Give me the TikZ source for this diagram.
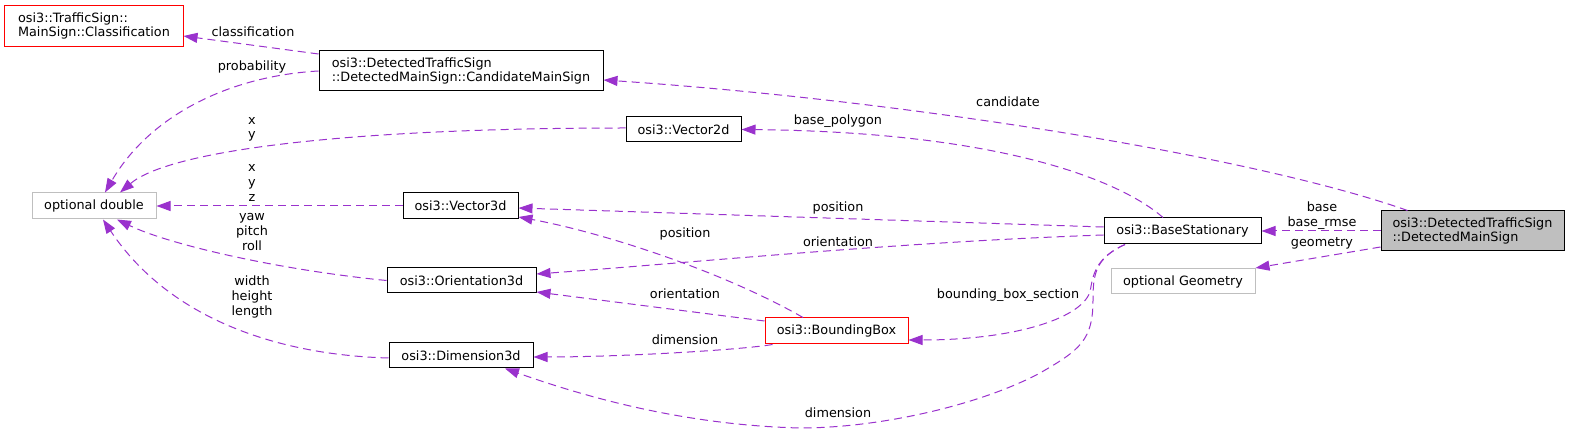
\documentclass[tikz,border=0pt]{standalone}
\usepackage{fontspec}
\setmainfont{DejaVu Sans}
\usetikzlibrary{arrows.meta,calc}
\definecolor{edgecol}{HTML}{9A32CD}
\definecolor{redbox}{HTML}{FF0000}
\definecolor{greybox}{HTML}{BFBFBF}
\tikzset{
  box/.style={line width=1pt, inner sep=0pt, align=left, font=\fontsize{12.8}{14}\selectfont},
  blackb/.style={box, draw=black},
  redb/.style={box, draw=redbox},
  greyb/.style={box, draw=greybox},
  mainb/.style={box, draw=black, fill=greybox},
  dep/.style={draw=edgecol, line width=1pt, dash pattern=on 8pt off 5pt, -{Triangle[length=14pt,width=10pt]}},
  lbl/.style={inner sep=0pt, align=center, font=\fontsize{12.8}{14.6}\selectfont}
}
\begin{document}
\begin{tikzpicture}[x=1pt,y=-1pt]
\fill[white] (0,0) rectangle (1569,435);
\useasboundingbox (0,0) rectangle (1569,435);
% nodes
\node[blackb, minimum width=284pt, minimum height=40pt] (cand) at (461,71) {osi3::DetectedTrafficSign\\::DetectedMainSign::CandidateMainSign};
\node[greyb, minimum width=124pt, minimum height=26pt] (od) at (94,206) {optional double};
\node[blackb, minimum width=115pt, minimum height=25pt] (v2) at (683.5,129.5) {osi3::Vector2d};
\node[blackb, minimum width=115pt, minimum height=26pt] (v3) at (460.5,206) {osi3::Vector3d};
\node[blackb, minimum width=149pt, minimum height=25pt] (o3) at (461.5,280.5) {osi3::Orientation3d};
\node[blackb, minimum width=144pt, minimum height=25pt] (d3) at (461,355.5) {osi3::Dimension3d};
\node[redb, minimum width=143pt, minimum height=26pt] (bb) at (836.5,331) {osi3::BoundingBox};
\node[box, minimum width=178pt, minimum height=40pt] (cls) at (94,26) {osi3::TrafficSign::\\MainSign::Classification};
\draw[redbox, line width=1pt] (cls.north west) rectangle (cls.south east);
\node[blackb, minimum width=157pt, minimum height=26pt] (bs) at (1182.5,231) {osi3::BaseStationary};
\node[mainb, minimum width=183pt, minimum height=40pt] (dms) at (1472.5,231) {osi3::DetectedTrafficSign\\::DetectedMainSign};
\node[greyb, minimum width=144pt, minimum height=25pt] (og) at (1183,281.5) {optional Geometry};
% edges
\draw[dep] ($(cand.west)+(0,-17)$) -- ($(cls.east)+(0,10)$);
\draw[dep] (cand.west) .. controls (230,76) and (150,115) .. ($(od.north)+(11,0)$);
\draw[dep] ($(dms.north west)+(27,0)$) .. controls (1250,155) and (900,100) .. ($(cand.east)+(0,9)$);
\draw[dep] ($(v2.west)+(0,-1.5)$) .. controls (350,128) and (170,150) .. ($(od.north)+(26,0)$);
\draw[dep] ($(bs.north)+(-19.5,0)$) .. controls (1120,180) and (1000,132) .. (v2.east);
\draw[dep] (v3.west) -- (od.east);
\draw[dep] ($(bs.west)+(0,-4)$) -- ($(v3.east)+(0,2)$);
\draw[dep] ($(bb.north)+(-33.5,0)$) .. controls (720,270) and (600,232) .. ($(v3.east)+(0,11)$);
\draw[dep] (o3.west) .. controls (280,270) and (170,245) .. ($(od.south)+(23,0)$);
\draw[dep] ($(d3.west)+(0,2.5)$) .. controls (280,355) and (170,320) .. ($(od.south)+(9,0)$);
\draw[dep] ($(bs.west)+(0,4)$) .. controls (900,242) and (700,262) .. ($(o3.east)+(0,-6.5)$);
\draw[dep] ($(bb.west)+(0,-10)$) -- ($(o3.east)+(0,11.5)$);
\draw[dep] ($(bb.south west)+(8,0)$) .. controls (740,350) and (620,357) .. ($(d3.east)+(0,1.5)$);
\draw[dep] ($(bs.south)+(-57.5,0)$) .. controls (1095,258) and (1093,275) .. (1093,300)
   .. controls (1093,340) and (1080,350) .. (1040,373)
   .. controls (980,405) and (880,428) .. (800,428)
   .. controls (680,425) and (580,395) .. ($(d3.south)+(44,0)$);
\draw[dep] ($(bs.south)+(-57.5,0)$) .. controls (1095,258) and (1093,275) .. (1090,292)
   .. controls (1080,320) and (1010,340) .. ($(bb.east)+(0,9)$);
\draw[dep] (dms.west) -- (bs.east);
\draw[dep] ($(dms.west)+(0,16)$) -- ($(og.north east)+(0,-0.5)$);
% labels
\node[lbl] (l1) at (253,32) {classification};
\node[lbl] (l2) at (252,67) {probability};
\node[lbl] (l3) at (1008,102) {candidate};
\node[lbl] (l4) at (252,129.5) {x\\y};
\node[lbl] (l5) at (838,121) {base\_polygon};
\node[lbl] (l6) at (252,183) {x\\y\\z};
\node[lbl] (l7) at (838,208) {position};
\node[lbl] (l8) at (685,234) {position};
\node[lbl] (l9) at (252,232) {yaw\\pitch\\roll};
\node[lbl] (l10) at (838,242) {orientation};
\node[lbl] (l11) at (685,294) {orientation};
\node[lbl] (l12) at (252,297) {width\\height\\length};
\node[lbl] (l13) at (685,340) {dimension};
\node[lbl] (l14) at (1008,295) {bounding\_box\_section};
\node[lbl] (l15) at (838,413) {dimension};
\node[lbl] (l16) at (1322,215.5) {base\\base\_rmse};
\node[lbl] (l17) at (1322,243) {geometry};
\end{tikzpicture}
\end{document}
